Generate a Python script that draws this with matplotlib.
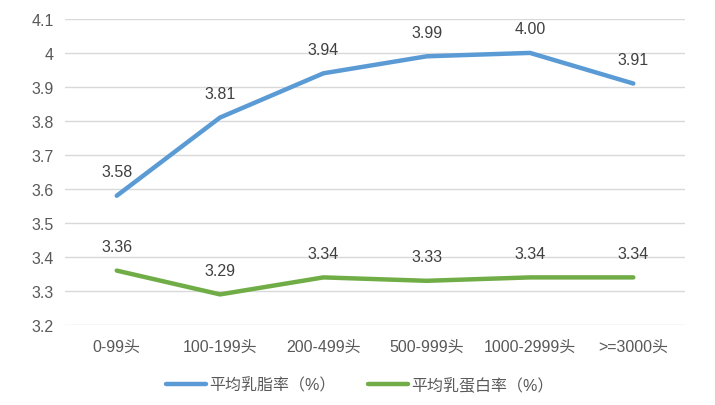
import matplotlib
matplotlib.use("Agg")
import matplotlib.pyplot as plt

plt.rcParams['font.family'] = ['Liberation Sans', 'Noto Sans CJK SC', 'DejaVu Sans']

categories = ['0-99头', '100-199头', '200-499头', '500-999头', '1000-2999头', '>=3000头']
fat = [3.58, 3.81, 3.94, 3.99, 4.00, 3.91]
protein = [3.36, 3.29, 3.34, 3.33, 3.34, 3.34]
series_names = ['平均乳脂率（%）', '平均乳蛋白率（%）']
yticks = [3.2, 3.3, 3.4, 3.5, 3.6, 3.7, 3.8, 3.9, 4.0, 4.1]
ytick_labels = ['3.2', '3.3', '3.4', '3.5', '3.6', '3.7', '3.8', '3.9', '4', '4.1']

txt = '#595959'
fs = 11.5
fig = plt.figure(figsize=(7.15, 4.06), dpi=100)
ax = fig.add_axes([0.091, 0.197, 0.867, 0.754])

x = list(range(len(categories)))
ax.plot(x, fat, color='#5b9bd5', lw=3.2, solid_capstyle='round', label=series_names[0])
ax.plot(x, protein, color='#70ad47', lw=3.2, solid_capstyle='round', label=series_names[1])

for xi, v in zip(x, fat):
    ax.annotate(f'{v:.2f}', (xi, v), xytext=(0, 12), textcoords='offset points',
                ha='center', va='bottom', fontsize=fs, color='#404040')
for xi, v in zip(x, protein):
    ax.annotate(f'{v:.2f}', (xi, v), xytext=(0, 12), textcoords='offset points',
                ha='center', va='bottom', fontsize=fs, color='#404040')

ax.set_xlim(-0.5, len(categories) - 0.5)
ax.set_ylim(3.2, 4.1)
ax.set_yticks(yticks)
ax.set_yticklabels(ytick_labels)
ax.set_xticks(x)
ax.set_xticklabels(categories)
ax.tick_params(axis='both', length=0, labelsize=fs, colors=txt)
ax.tick_params(axis='x', pad=10)
ax.tick_params(axis='y', pad=8)
ax.grid(axis='y', color='#d9d9d9', lw=1)
ax.set_axisbelow(True)
for s in ax.spines.values():
    s.set_visible(False)

leg = fig.legend(loc='center', bbox_to_anchor=(0.503, 0.05), ncol=2, frameon=False,
                 fontsize=fs, handlelength=2.5, columnspacing=2.0, handletextpad=0.2)
for t in leg.get_texts():
    t.set_color(txt)

fig.savefig('out.png', dpi=100)
